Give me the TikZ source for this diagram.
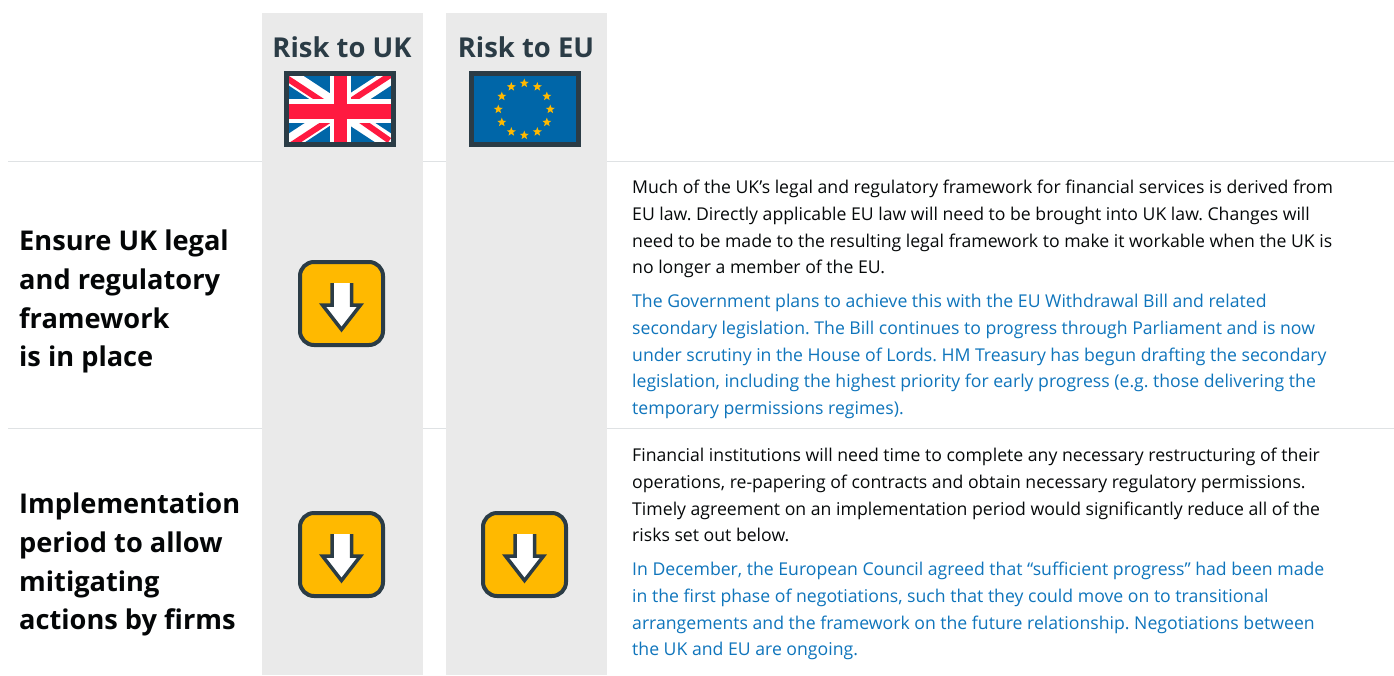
\documentclass[tikz,border=0pt]{standalone}
\usepackage{fontspec}
\setmainfont{Open Sans}
\usetikzlibrary{shapes.geometric}
\definecolor{band}{HTML}{EAEAEA}
\definecolor{rulec}{HTML}{DFE2E4}
\definecolor{ink}{HTML}{2B3C46}
\definecolor{amber}{HTML}{FFB900}
\definecolor{flagblue}{HTML}{0066A8}
\definecolor{flagred}{HTML}{FF1A40}
\definecolor{bluetext}{HTML}{0F75BC}
\tikzset{
  x=1pt,y=-1pt,
  bandbox/.style={fill=band,draw=none},
  rowrule/.style={draw=rulec,line width=1pt},
  colhead/.style={anchor=base,text=ink,font=\fontsize{27.4}{30}\selectfont\bfseries,inner sep=0pt},
  rowhead/.style={anchor=north west,align=left,inner sep=0pt,text=black!90!ink,font=\fontsize{27.2}{38.7}\selectfont\bfseries},
  bodytext/.style={anchor=north west,align=left,inner sep=0pt,text=black!85!ink,font=\frenchspacing\fontsize{17.65}{26.7}\selectfont},
  bluebody/.style={bodytext,text=bluetext},
  riskbox/.style={draw=ink,fill=amber,line width=4pt,rounded corners=14pt},
  riskarrow/.style={draw=ink,line width=3.5pt,miter limit=10},
  flagframe/.style={draw=ink,line width=5pt},
  eustar/.style={star,star points=5,star point ratio=2.4,fill=amber,draw=none,minimum size=9.5pt,inner sep=0pt},
}
\newcommand{\riskdown}[3]{% name, x, y of top-left
  \begin{scope}[shift={(#2,#3)}]
    \path[riskbox] (2,2) rectangle (85,85);
    \fill[white] (34,23) -- (53.5,23) -- (53.5,45) -- (62.5,45) -- (43.5,69.5) -- (24.5,45) -- (34,45) -- cycle;
    \path[riskarrow] (34,23) -- (34,45) -- (24.5,45) -- (43.5,69.5) -- (62.5,45) -- (53.5,45) -- (53.5,23);
    \coordinate (#1) at (43.5,43.5);
  \end{scope}
}
\begin{document}
\begin{tikzpicture}
\useasboundingbox (0,0) rectangle (1394,675);
\fill[white] (0,0) rectangle (1394,675);
\draw[rowrule] (8,161) -- (1394,161);
\draw[rowrule] (8,428.4) -- (1394,428.4);
\path[bandbox] (262,13) rectangle (423,675);
\path[bandbox] (446,13) rectangle (607,675);
\node[colhead] (ukhead) at (342,57) {Risk to UK};
\node[colhead] (euhead) at (526,57) {Risk to EU};
% UK flag
\begin{scope}
  \clip (286.5,73.5) rectangle (393.5,145);
  \fill[flagblue] (286,73) rectangle (394,146);
  \draw[white,line width=16pt] (289,76) -- (391,143) (289,143) -- (391,76);
  \draw[flagred,line width=6pt]
    (287.4,78.5) -- (338.4,112)
    (341.6,107) -- (392.6,73.5)
    (341.6,107) -- (389.4,140.5)
    (290.6,145.5) -- (341.6,112);
  \fill[white] (330,73) rectangle (351,146);
  \fill[white] (286,99) rectangle (394,123);
  \fill[flagred] (334,73) rectangle (347,146);
  \fill[flagred] (286,104) rectangle (394,119);
\end{scope}
\draw[flagframe] (286.5,73.5) rectangle (393.5,144.5);
% EU flag
\fill[flagblue] (471.5,73.5) rectangle (578.5,144.5);
\draw[flagframe] (471.5,73.5) rectangle (578.5,144.5);
\foreach \a in {0,30,...,330}
  \node[eustar] (star\a) at ({524.3+26*cos(\a)},{109.3+26*sin(\a)}) {};
% risk boxes
\riskdown{boxa}{298}{260}
\riskdown{boxb}{298}{511}
\riskdown{boxc}{481}{511}
% row labels
\node[rowhead] (rowa) at (19,230) {Ensure UK legal\\and regulatory\\framework\\is in place};
\node[rowhead] (rowb) at (19,493) {Implementation\\period to allow\\mitigating\\actions by firms};
% text
\node[bodytext] (ta) at (632,180) {Much of the UK’s legal and regulatory framework for financial services is derived from\\EU law. Directly applicable EU law will need to be brought into UK law. Changes will\\need to be made to the resulting legal framework to make it workable when the UK is\\no longer a member of the EU.};
\node[bluebody] (tb) at (632,294) {The Government plans to achieve this with the EU Withdrawal Bill and related\\secondary legislation. The Bill continues to progress through Parliament and is now\\under scrutiny in the House of Lords. HM Treasury has begun drafting the secondary\\legislation, including the highest priority for early progress (e.g. those delivering the\\temporary permissions regimes).};
\node[bodytext] (tc) at (632,448) {Financial institutions will need time to complete any necessary restructuring of their\\operations, re-papering of contracts and obtain necessary regulatory permissions.\\Timely agreement on an implementation period would significantly reduce all of the\\risks set out below.};
\node[bluebody] (td) at (632,562) {In December, the European Council agreed that “sufficient progress” had been made\\in the first phase of negotiations, such that they could move on to transitional\\arrangements and the framework on the future relationship. Negotiations between\\the UK and EU are ongoing.};
\end{tikzpicture}
\end{document}
